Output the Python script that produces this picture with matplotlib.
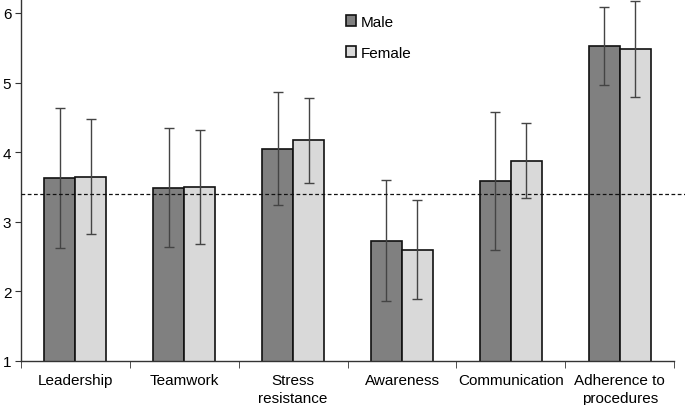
import matplotlib
matplotlib.use("Agg")
import matplotlib.pyplot as plt
import numpy as np

plt.rcParams['font.family'] = ['Liberation Sans', 'DejaVu Sans']

# --- datos ---
categorias = ["Leadership", "Teamwork", "Stress\nresistance", "Awareness",
              "Communication", "Adherence to\nprocedures"]
media_hombre = [3.63, 3.49, 4.05, 2.73, 3.58, 5.53]
sd_hombre    = [1.00, 0.85, 0.81, 0.87, 0.99, 0.56]
media_mujer  = [3.65, 3.50, 4.17, 2.60, 3.88, 5.48]
sd_mujer     = [0.82, 0.82, 0.61, 0.71, 0.54, 0.69]
referencia   = 3.40

W, H = 685, 406
fig = plt.figure(figsize=(W / 100, H / 100), dpi=100)
ax = fig.add_axes([21 / W, (H - 362) / H, (W - 21) / W, 362 / H])

x = np.arange(len(categorias))
ancho = 0.285
err_kw = dict(ecolor="#444444", elinewidth=1.0, capsize=3.5, capthick=1.0)
ax.bar(x - ancho / 2, media_hombre, ancho, yerr=sd_hombre, color="#808080",
       edgecolor="#111111", linewidth=1.2, label="Male", error_kw=err_kw, zorder=2)
ax.bar(x + ancho / 2, media_mujer, ancho, yerr=sd_mujer, color="#d9d9d9",
       edgecolor="#111111", linewidth=1.2, label="Female", error_kw=err_kw, zorder=2)

ax.axhline(referencia, color="#111111", linestyle=(0, (3, 2)), linewidth=0.9, zorder=3)

ax.set_ylim(1, 6.2)
ax.set_xlim(-0.5, 5.6)
ax.set_yticks([1, 2, 3, 4, 5, 6])
ax.tick_params(axis='y', labelsize=11, length=4, color="#333333", pad=3)

# etiquetas centradas, marcas en los bordes de categoría
ax.set_xticks(x)
ax.set_xticklabels(categorias, fontsize=11, linespacing=1.3)
ax.set_xticks(np.arange(-0.5, 6.0, 1.0), minor=True)
ax.tick_params(axis='x', which='major', length=0, pad=9)
ax.tick_params(axis='x', which='minor', length=5, color="#333333")

for s in ("top", "right"):
    ax.spines[s].set_visible(False)
ax.spines['bottom'].set_bounds(-0.5, 5.5)
for s in ("left", "bottom"):
    ax.spines[s].set_color("#333333")
    ax.spines[s].set_linewidth(1.0)

ax.legend(loc="upper left", bbox_to_anchor=(0.489, 0.956), frameon=False,
          fontsize=11, handlelength=0.7, handleheight=0.7, handletextpad=0.3,
          labelspacing=1.1, borderpad=0, borderaxespad=0)

fig.savefig("out.png", dpi=100)
